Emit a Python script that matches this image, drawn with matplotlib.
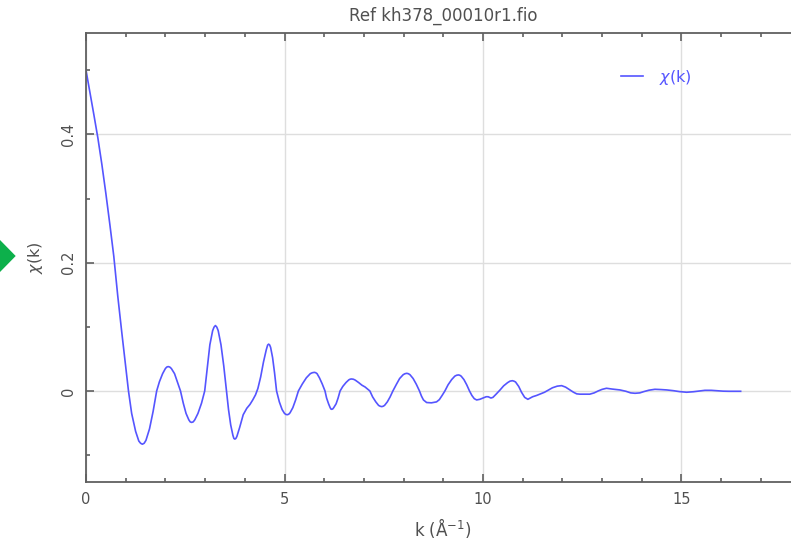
import matplotlib
matplotlib.use("Agg")
import matplotlib.pyplot as plt
from matplotlib.ticker import MultipleLocator, FixedLocator, FixedFormatter
from matplotlib.patches import Polygon

# EXAFS chi(k) spectrum
k = [0.00, 0.10, 0.20, 0.30, 0.40, 0.50, 0.60, 0.70, 0.80, 0.90, 1.00, 1.07,
     1.15, 1.25, 1.33, 1.375, 1.42, 1.465, 1.51, 1.60, 1.69, 1.78, 1.85, 1.93,
     2.00, 2.035, 2.07, 2.11, 2.15, 2.23, 2.30, 2.38, 2.45, 2.52, 2.59, 2.625,
     2.66, 2.70, 2.74, 2.82, 2.91, 2.99, 3.06, 3.12, 3.19, 3.225, 3.26, 3.295,
     3.33, 3.40, 3.47, 3.54, 3.59, 3.645, 3.70, 3.725, 3.75, 3.775, 3.80, 3.87,
     3.96, 4.05, 4.13, 4.20, 4.27, 4.33, 4.40, 4.47, 4.54, 4.575, 4.60, 4.625,
     4.65, 4.70, 4.75, 4.80, 4.87, 4.94, 5.00, 5.035, 5.07, 5.105, 5.14, 5.21,
     5.28, 5.35, 5.45, 5.55, 5.65, 5.70, 5.75, 5.785, 5.82, 5.88, 5.95, 6.02,
     6.06, 6.11, 6.15, 6.17, 6.19, 6.215, 6.24, 6.30, 6.35, 6.40, 6.47, 6.55,
     6.62, 6.655, 6.69, 6.735, 6.78, 6.87, 6.95, 7.03, 7.10, 7.15, 7.22, 7.30,
     7.37, 7.41, 7.45, 7.485, 7.52, 7.59, 7.66, 7.73, 7.82, 7.90, 7.99, 8.035,
     8.08, 8.12, 8.16, 8.24, 8.32, 8.40, 8.45, 8.50, 8.58, 8.70, 8.83, 8.90,
     8.97, 9.04, 9.12, 9.21, 9.29, 9.335, 9.38, 9.415, 9.45, 9.52, 9.59, 9.66,
     9.72, 9.78, 9.84, 9.92, 10.00, 10.08, 10.13, 10.20, 10.25, 10.33, 10.43, 10.52,
     10.62, 10.68, 10.74, 10.78, 10.82, 10.90, 10.97, 11.05, 11.13, 11.25, 11.35, 11.44,
     11.55, 11.65, 11.75, 11.87, 11.98, 12.08, 12.18, 12.28, 12.36, 12.44, 12.56, 12.69,
     12.80, 12.90, 13.00, 13.11, 13.25, 13.45, 13.60, 13.72, 13.83, 13.95, 14.05, 14.18,
     14.33, 14.48, 14.63, 14.79, 14.95, 15.13, 15.30, 15.45, 15.59, 15.75, 15.90, 16.05,
     16.20, 16.35, 16.49]

chi = [0.500, 0.465, 0.430, 0.394, 0.353, 0.308, 0.260, 0.210, 0.148, 0.092, 0.038, 0.000,
       -0.035, -0.063, -0.078, -0.0815, -0.083, -0.0815, -0.077, -0.059, -0.032, 0.000, 0.0145, 0.027,
       0.035, 0.0373, 0.038, 0.0373, 0.035, 0.027, 0.0145, 0.000, -0.019, -0.035, -0.045, -0.0482,
       -0.049, -0.0482, -0.045, -0.035, -0.019, 0.000, 0.039, 0.072, 0.094, 0.0995, 0.102, 0.0995,
       0.094, 0.072, 0.039, 0.000, -0.029, -0.053, -0.069, -0.0740, -0.075, -0.0740, -0.071, -0.057,
       -0.037, -0.027, -0.021, -0.014, -0.006, 0.004, 0.022, 0.045, 0.064, 0.0715, 0.073, 0.0718,
       0.068, 0.052, 0.028, 0.000, -0.017, -0.029, -0.035, -0.0366, -0.037, -0.0363, -0.034, -0.026,
       -0.014, 0.000, 0.011, 0.0205, 0.027, 0.0284, 0.029, 0.0285, 0.027, 0.0205, 0.011, 0.000,
       -0.011, -0.020, -0.026, -0.0282, -0.0286, -0.0280, -0.026, -0.020, -0.011, 0.000, 0.0072, 0.0132,
       0.0173, 0.0184, 0.0187, 0.0183, 0.017, 0.013, 0.009, 0.0062, 0.0025, 0.000, -0.0093, -0.017,
       -0.0225, -0.0238, -0.0244, -0.0238, -0.0225, -0.017, -0.0093, 0.000, 0.0105, 0.0194, 0.0254, 0.0269,
       0.0275, 0.0269, 0.0254, 0.0194, 0.0105, 0.000, -0.008, -0.014, -0.018, -0.0185, -0.017, -0.0135,
       -0.007, 0.000, 0.0096, 0.0177, 0.0231, 0.0245, 0.025, 0.0245, 0.0231, 0.0177, 0.0096, 0.000,
       -0.007, -0.012, -0.014, -0.013, -0.011, -0.009, -0.009, -0.011, -0.010, -0.005, 0.0016, 0.008,
       0.013, 0.0153, 0.016, 0.0153, 0.014, 0.007, -0.002, -0.010, -0.013, -0.009, -0.007, -0.0047,
       -0.002, 0.0016, 0.005, 0.0075, 0.0083, 0.006, 0.002, -0.002, -0.0045, -0.005, -0.005, -0.005,
       -0.003, 0.000, 0.0025, 0.0042, 0.003, 0.0016, -0.0005, -0.003, -0.0036, -0.003, -0.001, 0.0012,
       0.0026, 0.0022, 0.0016, 0.0005, -0.001, -0.002, -0.0012, 0.000, 0.001, 0.001, 0.0004, -0.0003,
       -0.0005, -0.0005, -0.0005]

x_major = [0, 5, 10, 15]
x_labels = ["0", "5", "10", "15"]
y_major = [0.0, 0.2, 0.4]
y_labels = ["0", "0.2", "0.4"]

title = "Ref kh378_00010r1.fio"
series_label = r"$\chi$(k)"

LINE = "#5555ff"
AXC = "#606060"
TXT = "#505050"
GRID = "#dedede"

W, H = 791, 541
fig = plt.figure(figsize=(W / 100, H / 100), dpi=100)
fig.patch.set_facecolor("white")

# axes box in pixel units (frame continues past the right edge)
left_px, right_px, top_px, bottom_px = 86, 800.6, 33, 482
ax = fig.add_axes([left_px / W, 1 - bottom_px / H,
                   (right_px - left_px) / W, (bottom_px - top_px) / H])

ax.plot(k, chi, color=LINE, lw=1.2, label=series_label,
        solid_joinstyle="round")

ax.set_xlim(0, 18)
ax.set_ylim(-0.1419, 0.558)

ax.xaxis.set_major_locator(FixedLocator(x_major))
ax.xaxis.set_major_formatter(FixedFormatter(x_labels))
ax.xaxis.set_minor_locator(MultipleLocator(1))
ax.yaxis.set_major_locator(FixedLocator(y_major))
ax.yaxis.set_major_formatter(FixedFormatter(y_labels))
ax.yaxis.set_minor_locator(MultipleLocator(0.1))

ax.grid(True, which="major", color=GRID, lw=1.0)
ax.set_axisbelow(True)

for side in ("left", "bottom", "top"):
    ax.spines[side].set_color(AXC)
    ax.spines[side].set_linewidth(1.3)
ax.spines["right"].set_visible(False)

ax.tick_params(axis="both", which="both", direction="in", color=AXC,
               labelcolor=TXT, labelsize=10.5, width=1.2)
ax.tick_params(axis="x", which="both", top=True, bottom=True)
ax.tick_params(axis="y", which="both", left=True, right=False)
ax.tick_params(which="major", length=6)
ax.tick_params(which="minor", length=3)
ax.tick_params(axis="x", pad=7)
ax.tick_params(axis="y", pad=7)
for lab in ax.get_yticklabels():
    lab.set_rotation(90)
    lab.set_va("center")

ax.set_title(title, fontsize=12, color=TXT, pad=9)
ax.set_xlabel(r"k ($\mathrm{\AA}^{-1}$)", fontsize=12, color=TXT, labelpad=7)
ax.set_ylabel(r"$\chi$(k)", fontsize=11.5, color=TXT, labelpad=12)

leg = ax.legend(loc="upper left", bbox_to_anchor=(621 / W, 1 - 68 / H),
                bbox_transform=fig.transFigure, frameon=False, fontsize=11.5,
                handlelength=1.4, handletextpad=1.0, borderpad=0,
                borderaxespad=0, labelcolor="linecolor")

# green marker at the left edge
tri = Polygon([(-16 / W, 1 - 256 / H), (0, 1 - 240 / H), (15.7 / W, 1 - 256 / H),
               (0, 1 - 272 / H)], closed=True, transform=fig.transFigure,
              facecolor="#0db04b", edgecolor="none", clip_on=False)
fig.patches.append(tri)

fig.savefig("out.png", dpi=100, facecolor="white")
